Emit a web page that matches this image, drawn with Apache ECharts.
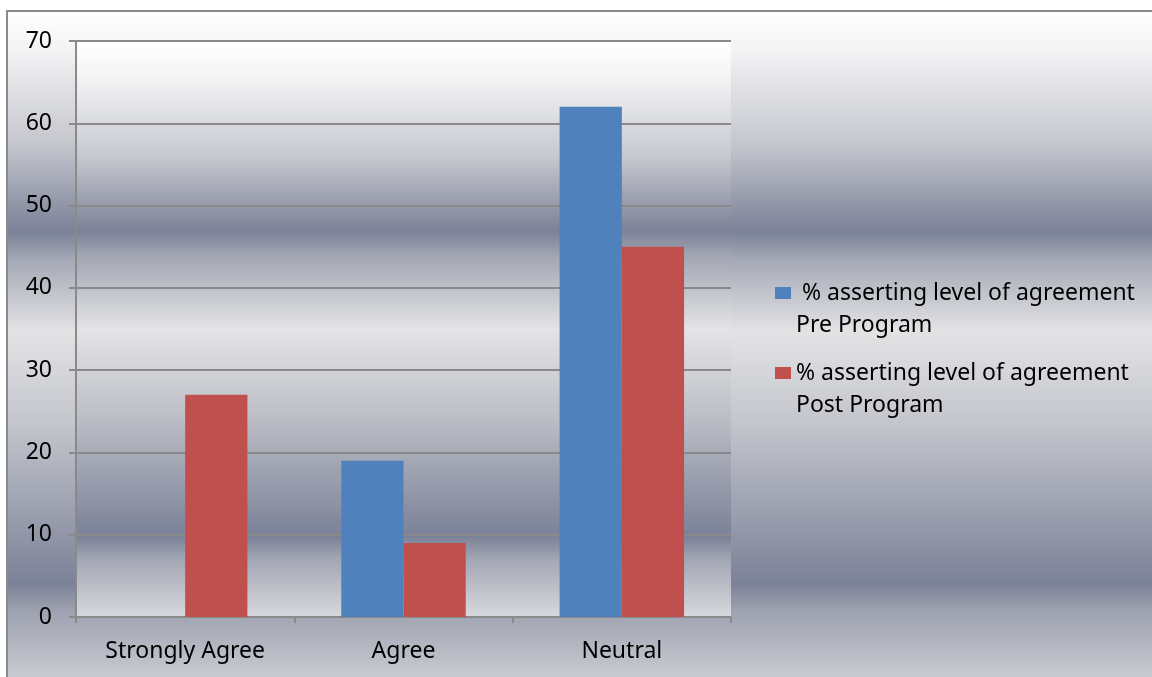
<!DOCTYPE html>
<html>
<head>
<meta charset="utf-8">
<script src="https://cdn.jsdelivr.net/npm/echarts@6/dist/echarts.min.js"></script>
<style>
  html, body { margin: 0; padding: 0; background: #fff; overflow: hidden; }
  #frame { position: absolute; left: 6px; top: 10px; width: 1200px; height: 700px; border: 2px solid #8a8a8a; box-sizing: border-box; }
  #main { position: absolute; left: 8px; top: 12px; width: 1144px; height: 665px; }
</style>
</head>
<body>
<div id="frame"></div>
<div id="main"></div>
<script>
const categories = ['Strongly Agree', 'Agree', 'Neutral'];
const preProgram = [0, 19, 62];
const postProgram = [27, 9, 45];
const seriesNames = ['% asserting level of agreement Pre Program', '% asserting level of agreement Post Program'];
const yTicks = { min: 0, max: 70, interval: 10 };

const font = 'Noto Sans';
const metal = (stops) => ({
  type: 'linear', x: 0, y: 0, x2: 0, y2: 1,
  colorStops: stops.map(s => ({ offset: s[0], color: s[1] }))
});

const chart = echarts.init(document.getElementById('main'));

// legend text: empty first line so the icon lines up with the first real line
const legendText = name => '\n' + name.replace(' Pre', '\nPre').replace(' Post', '\nPost');

chart.setOption({
  backgroundColor: metal([
    [0, '#ffffff'], [0.06, '#f2f2f3'], [0.2, '#c4c6cd'], [0.33, '#7b8197'],
    [0.37, '#a3a7b4'], [0.48, '#e3e3e5'], [0.62, '#c3c5cc'], [0.86, '#7b8197'],
    [0.9, '#9ea2b0'], [1, '#c8cad1']
  ]),
  textStyle: { fontFamily: font },
  animation: false,
  grid: {
    left: 68, top: 29, right: 421, bottom: 60,
    show: true, borderWidth: 0,
    backgroundColor: metal([
      [0, '#ffffff'], [0.06, '#f4f4f5'], [0.2, '#c7c9cf'], [0.33, '#7b8197'],
      [0.37, '#a0a4b1'], [0.5, '#e4e4e6'], [0.64, '#c0c2c9'], [0.86, '#7b8197'],
      [0.9, '#a3a7b4'], [1, '#d8d9de']
    ])
  },
  legend: [0, 1].map(i => ({
    data: [seriesNames[i]],
    orient: 'vertical',
    left: 762,
    top: i === 0 ? 228 : 308,
    itemWidth: 16,
    itemHeight: 12,
    icon: 'rect',
    formatter: name => legendText(name).replace('\n%', i === 0 ? '\n %' : '\n%'),
    textStyle: { fontFamily: font, fontSize: 23, color: '#000', lineHeight: 32 }
  })),
  xAxis: {
    type: 'category',
    data: categories,
    axisLine: { lineStyle: { color: '#8a8a8a', width: 2 } },
    axisTick: { show: true, length: 6, lineStyle: { color: '#8a8a8a', width: 2 } },
    axisLabel: { color: '#000', fontSize: 23, margin: 23, fontFamily: font }
  },
  yAxis: {
    type: 'value',
    min: yTicks.min, max: yTicks.max, interval: yTicks.interval,
    axisLine: { show: true, lineStyle: { color: '#8a8a8a', width: 2 } },
    axisTick: { show: true, length: 7, lineStyle: { color: '#8a8a8a', width: 2 } },
    axisLabel: { color: '#000', fontSize: 23, margin: 24, fontFamily: font },
    splitLine: { lineStyle: { color: '#8a8a8a', width: 2 } }
  },
  series: [{
    name: seriesNames[0],
    type: 'bar',
    data: preProgram,
    barGap: '0%',
    barCategoryGap: '43%',
    itemStyle: { color: '#4f81bd' }
  }, {
    name: seriesNames[1],
    type: 'bar',
    data: postProgram,
    barGap: '0%',
    barCategoryGap: '43%',
    itemStyle: { color: '#c0504d' }
  }]
});
</script>
</body>
</html>
